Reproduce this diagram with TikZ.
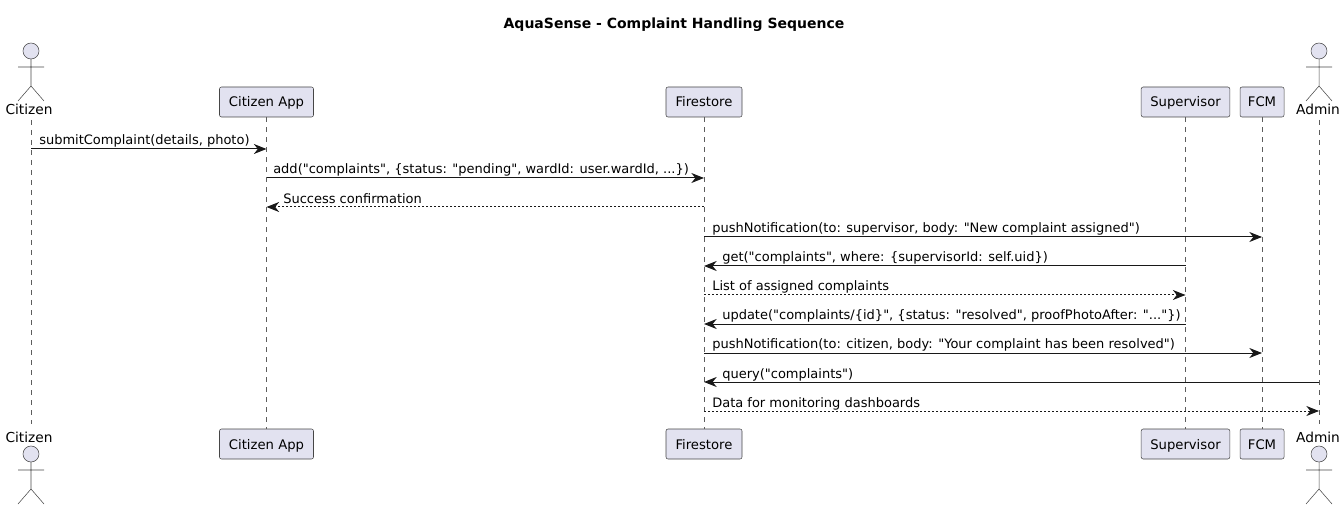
\documentclass[tikz,border=0pt]{standalone}
\usepackage{fontspec}
\setmainfont{DejaVu Sans}
\newfontfamily\plainfont{DejaVu Sans}
\usetikzlibrary{arrows.meta}
\definecolor{part}{HTML}{E2E2F0}
\definecolor{edge}{HTML}{181818}
\tikzset{
 x=0.75pt,y=-0.75pt,
 partbox/.style={draw=edge!80,line width=0.4pt,fill=part,rounded corners=1.5pt,minimum height=22.5pt,inner sep=0pt,text height=9pt,text depth=1.5pt,font=\plainfont\fontsize{9.9pt}{12pt}\selectfont,text=black},
 lifeline/.style={draw=edge!70,line width=0.4pt,dash pattern=on 3.75pt off 3.75pt},
 msgline/.style={draw=edge,line width=0.75pt,-{Stealth[length=9.5pt,width=7.5pt,inset=3pt]}},
 retline/.style={msgline,dash pattern=on 1.5pt off 1.5pt},
 msglabel/.style={anchor=base west,inner sep=0pt,font=\plainfont\fontsize{9.75pt}{12pt}\selectfont,text=black},
 actorname/.style={anchor=base,inner sep=0pt,font=\plainfont\fontsize{10.3pt}{12pt}\selectfont,text=black},
 actorline/.style={draw=edge!80,line width=0.4pt},
 actorhead/.style={draw=edge!80,line width=0.4pt,fill=part},
}
\newcommand{\stick}[2]{%
 \draw[actorhead] (#1,#2) circle[radius=8];
 \draw[actorline] (#1,#2+8) -- (#1,#2+35) (#1-13,#2+16) -- (#1+13,#2+16) (#1-13,#2+50) -- (#1,#2+35) -- (#1+13,#2+50);
}
\begin{document}
\begin{tikzpicture}
\useasboundingbox (0,0) rectangle (1344,509);
\node[anchor=base,inner sep=0pt,font=\bfseries\fontsize{10.5pt}{12pt}\selectfont] (title) at (674,29) {AquaSense - Complaint Handling Sequence};
\node[actorname] (citizenT) at (29,115) {Citizen};
\node[actorname] (adminT) at (1318,115) {Admin};
\node[actorname] (citizenB) at (29,442) {Citizen};
\node[actorname] (adminB) at (1318,442) {Admin};
\coordinate (citizenTop) at (31,120); \coordinate (citizenEnd) at (31,424);
\coordinate (adminTop) at (1319,120); \coordinate (adminEnd) at (1319,424);
\draw[lifeline] (citizenTop) -- (citizenEnd);
\draw[lifeline] (adminTop) -- (adminEnd);
\node[partbox,minimum width=70.5pt] (appT) at (266.5,102) {Citizen App};
\node[partbox,minimum width=70.5pt] (appB) at (266.5,444) {Citizen App};
\node[partbox,minimum width=57pt] (fsT) at (704,102) {Firestore};
\node[partbox,minimum width=57pt] (fsB) at (704,444) {Firestore};
\node[partbox,minimum width=66.5pt] (supT) at (1185.5,102) {Supervisor};
\node[partbox,minimum width=66.5pt] (supB) at (1185.5,444) {Supervisor};
\node[partbox,minimum width=33pt] (fcmT) at (1262,102) {FCM};
\node[partbox,minimum width=33pt] (fcmB) at (1262,444) {FCM};
\draw[lifeline] (appT) -- (appB);
\draw[lifeline] (fsT) -- (fsB);
\draw[lifeline] (supT) -- (supB);
\draw[lifeline] (fcmT) -- (fcmB);
\stick{31}{51}
\stick{1319}{51}
\stick{31}{454}
\stick{1319}{454}
\coordinate (r1) at (0,149); \coordinate (r2) at (0,178); \coordinate (r3) at (0,207);
\coordinate (r4) at (0,237); \coordinate (r5) at (0,266); \coordinate (r6) at (0,295);
\coordinate (r7) at (0,324); \coordinate (r8) at (0,353); \coordinate (r9) at (0,382);
\coordinate (r10) at (0,411);
\draw[msgline] (citizenTop |- r1) -- (appT |- r1);
\draw[msgline] (appT |- r2) -- (fsT |- r2);
\draw[retline] (fsT |- r3) -- (appT |- r3);
\draw[msgline] (fsT |- r4) -- (fcmT |- r4);
\draw[msgline] (supT |- r5) -- (fsT |- r5);
\draw[retline] (fsT |- r6) -- (supT |- r6);
\draw[msgline] (supT |- r7) -- (fsT |- r7);
\draw[msgline] (fsT |- r8) -- (fcmT |- r8);
\draw[msgline] (adminTop |- r9) -- (fsT |- r9);
\draw[retline] (fsT |- r10) -- (adminTop |- r10);
\node[msglabel] (l1) at (39,145) {submitComplaint(details, photo)};
\node[msglabel] (l2) at (273,174) {add("complaints", \{status: "pending", wardId: user.wardId, ...\})};
\node[msglabel] (l3) at (283,204) {Success confirmation};
\node[msglabel] (l4) at (712,233) {pushNotification(to: supervisor, body: "New complaint assigned")};
\node[msglabel] (l5) at (722,262) {get("complaints", where: \{supervisorId: self.uid\})};
\node[msglabel] (l6) at (712,291) {List of assigned complaints};
\node[msglabel] (l7) at (722,320) {update("complaints/\{id\}", \{status: "resolved", proofPhotoAfter: "..."\})};
\node[msglabel] (l8) at (712,349) {pushNotification(to: citizen, body: "Your complaint has been resolved")};
\node[msglabel] (l9) at (722,378) {query("complaints")};
\node[msglabel] (l10) at (712,407) {Data for monitoring dashboards};
\end{tikzpicture}
\end{document}
